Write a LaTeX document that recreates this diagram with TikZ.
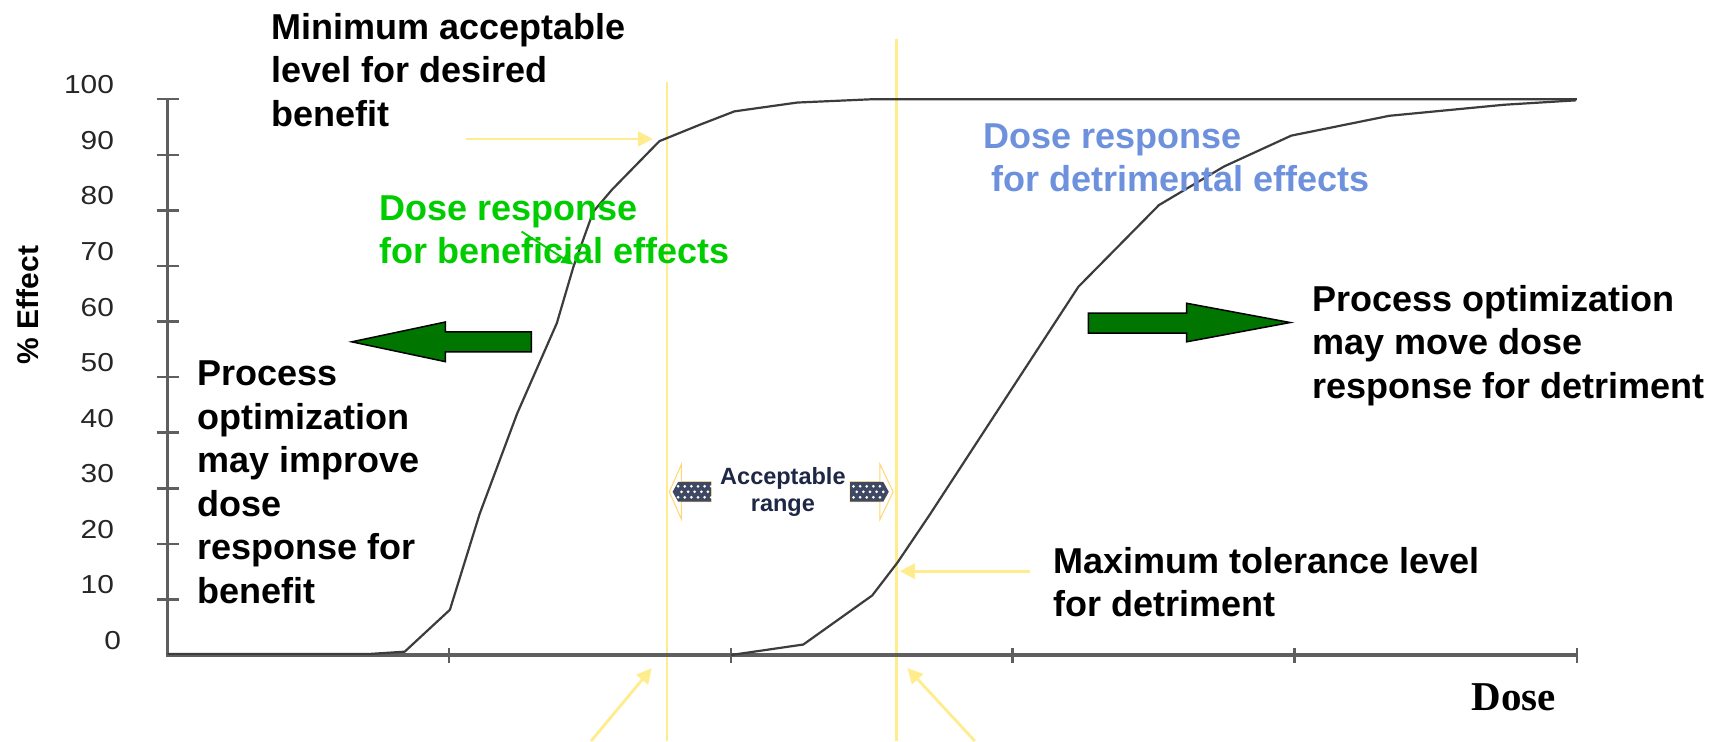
\documentclass[tikz,border=0pt]{standalone}
\usepackage{fontspec}
\setmainfont{Liberation Sans}
\newfontfamily\timesfont{Liberation Serif}
\usetikzlibrary{arrows.meta}
\definecolor{ylw}{RGB}{255,236,140}
\definecolor{grn}{RGB}{0,205,0}
\definecolor{blu}{RGB}{110,145,222}
\definecolor{darkgrn}{RGB}{0,118,0}
\definecolor{curvec}{RGB}{60,60,60}
\definecolor{axisc}{RGB}{95,95,95}
\definecolor{navy}{RGB}{30,40,70}
\definecolor{patt}{RGB}{62,72,98}
\tikzset{
  big/.style={font=\fontsize{36}{43.5}\selectfont\bfseries, align=left, anchor=base west, inner sep=0pt},
  ticklbl/.style={font=\fontsize{26}{30}\selectfont, anchor=base east, inner sep=0pt, text=black!85},
  curve/.style={draw=curvec, line width=2.2pt, line join=round},
  axisline/.style={draw=axisc, line width=3.5pt},
  tickmark/.style={draw=axisc, line width=2.5pt},
  yline/.style={draw=ylw, line width=2.4pt},
  yarrow/.style={draw=ylw, line width=2.8pt, -{Triangle[length=15pt,width=15pt]}},
  blockarrow/.style={fill=darkgrn, draw=black, line width=1.5pt, line join=miter},
  accout/.style={draw=ylw!80!orange, fill=white, line width=1pt},
  accbody/.style={fill=patt},
}
\begin{document}
\begin{tikzpicture}[x=1.1027pt, y=-1.1027pt]
\useasboundingbox (0,0) rectangle (1568,672);
\fill[white] (0,0) rectangle (1568,672);

% yellow vertical lines
\coordinate (v1t) at (605,74);  \coordinate (v1b) at (605,672);
\coordinate (v2t) at (813,35);  \coordinate (v2b) at (813,672);
\draw[yline] (v1t) -- (v1b);
\draw[yline] (v2t) -- (v2b);

% axes
\coordinate (o) at (152,594);
\coordinate (ytop) at (152,90);
\coordinate (xend) at (1430,594);
\draw[axisline] (ytop) -- (o) -- (xend);
\foreach \v in {10,20,...,100}{
  \draw[tickmark] (142,{594-\v*5.04}) -- (162,{594-\v*5.04});
  \node[ticklbl] (t\v) at (103.5,{589-\v*5.04}) {\scalebox{1.15}[1]{\v}};
}
\node[ticklbl] (t0) at (110,589) {\scalebox{1.15}[1]{0}};
\foreach \x in {407.2,663,918,1174,1430}{
  \draw[tickmark] (\x,588) -- (\x,601);
}

% curves
\draw[curve] (152,593) -- (336,593) -- (367,591) -- (408,553) -- (435,466) -- (469,375)
  -- (505,293) -- (520,242) -- (538,192) -- (555,172) -- (598,128) -- (635,113)
  -- (666,101) -- (723,93) -- (791,90) -- (1430,90);
\draw[curve] (663,594) -- (728.5,584.5) -- (791,540) -- (814,510) -- (843,467) -- (916,355)
  -- (978,260) -- (1051,186) -- (1110,151) -- (1171,123) -- (1260,105) -- (1364,95) -- (1429,91);

% yellow pointer arrows
\coordinate (a1s) at (423,126); \coordinate (a1e) at (592,126);
\coordinate (a2s) at (934,518); \coordinate (a2e) at (816,518);
\coordinate (a3s) at (536,672); \coordinate (a3e) at (591,606);
\coordinate (a4s) at (884,672); \coordinate (a4e) at (823,606);
\draw[yarrow] (a1s) -- (a1e);
\draw[yarrow] (a2s) -- (a2e);
\draw[yarrow] (a3s) -- (a3e);
\draw[yarrow] (a4s) -- (a4e);

% green block arrows
\draw[blockarrow] (482,301) -- (404,301) -- (404,292) -- (319,310) -- (404,328) -- (404,319) -- (482,319) -- cycle;
\draw[blockarrow] (987,284) -- (1076,284) -- (1076,275) -- (1170,292.5) -- (1076,310) -- (1076,302) -- (987,302) -- cycle;

% acceptable range arrows
\draw[accout] (645,437) -- (618,437) -- (618,421) -- (607,446) -- (618,471) -- (618,455) -- (645,455) -- cycle;
\fill[accbody] (645,437) -- (615,437) -- (610,446) -- (615,455) -- (645,455) -- cycle;
\draw[accout] (771,437) -- (798,437) -- (798,421) -- (810,446) -- (798,471) -- (798,455) -- (771,455) -- cycle;
\fill[accbody] (771,437) -- (801,437) -- (806,446) -- (801,455) -- (771,455) -- cycle;
\foreach \x in {615,621,...,645}{
  \fill[white] (\x,441) circle[radius=1.5pt];
  \fill[white] (\x,451) circle[radius=1.5pt];
  \fill[white] (\x+3,446) circle[radius=1.5pt];
}
\foreach \x in {774,780,...,800}{
  \fill[white] (\x,441) circle[radius=1.5pt];
  \fill[white] (\x,451) circle[radius=1.5pt];
  \fill[white] (\x+3,446) circle[radius=1.5pt];
}
\node[font=\fontsize{23.5}{27}\selectfont\bfseries, text=navy, align=center, anchor=base, inner sep=0pt] (acc) at (710,464) {Acceptable\\range};

% texts (anchor = baseline of last line)
\node[big] (minlbl) at (246,114.5) {Minimum acceptable\\level for desired\\benefit};
\node[big, text=grn] (benlbl) at (344,239) {Dose response\\for beneficial effects};
\node[big, text=blu] (detlbl) at (892,174) {Dose response\\\hspace*{8pt}for detrimental effects};
\node[big] (movelbl) at (1190,361) {Process optimization\\may move dose\\response for detriment};
\node[big] (maxlbl) at (955,559.5) {Maximum tolerance level\\for detriment};
\node[big] (implbl) at (179,547) {Process\\optimization\\may improve\\dose\\response for\\benefit};

% small green pointer
\coordinate (g1) at (473,210); \coordinate (g2) at (520,240);
\draw[grn, line width=1.8pt, -{Triangle[length=12pt,width=10pt]}] (g1) -- (g2);

% axis labels
\node[font=\fontsize{30}{34}\selectfont\bfseries, rotate=90, inner sep=0pt] (ylbl) at (25,276.6) {\% Effect};
\node[font=\timesfont\bfseries\fontsize{41}{48}\selectfont, anchor=base, inner sep=0pt] (xlbl) at (1373,644) {Dose};
\end{tikzpicture}
\end{document}
